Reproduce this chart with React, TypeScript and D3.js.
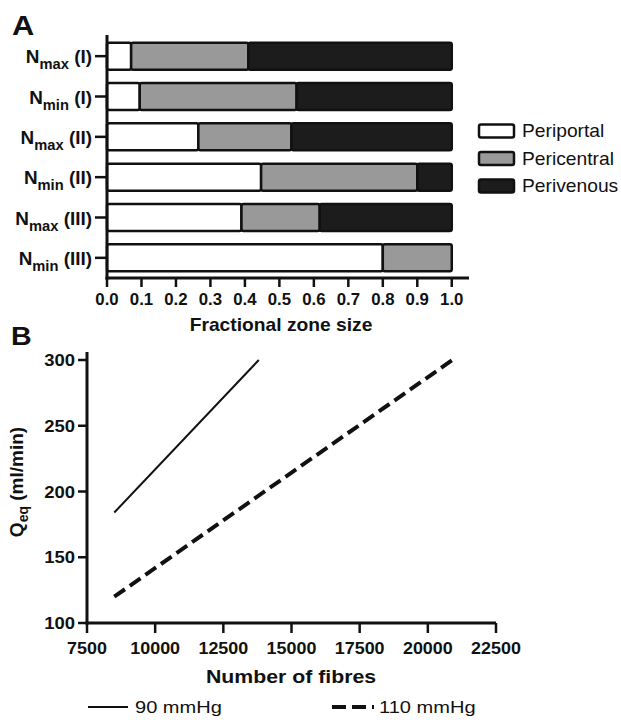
import React from "react";
import * as d3 from "d3";

// panel A
const subs = ["max", "min", "max", "min", "max", "min"];
const groups = ["I", "I", "II", "II", "III", "III"];
const zones = ["Periportal", "Pericentral", "Perivenous"];
const periportal = [0.07, 0.095, 0.265, 0.447, 0.39, 0.8];
const pericentral = [0.34, 0.455, 0.27, 0.453, 0.227, 0.2];
const perivenous = [0.59, 0.45, 0.465, 0.1, 0.383, 0];
const fracTicks = [0, 0.1, 0.2, 0.3, 0.4, 0.5, 0.6, 0.7, 0.8, 0.9, 1.0];

// panel B
const fibres90 = [8500, 13800];
const q90 = [184, 300];
const fibres110 = [8500, 20900];
const q110 = [120, 300];
const fibreTicks = [7500, 10000, 12500, 15000, 17500, 20000, 22500];
const qTicks = [100, 150, 200, 250, 300];

const FONT = "'Liberation Sans', Arial, Helvetica, sans-serif";
const zoneFill = ["#ffffff", "#999999", "#1c1c1c"];

function T({ x, y, size, bold = true, anchor = "start", sx = 1.1, children }: any) {
  return (
    <text
      transform={`translate(${x},${y}) scale(${sx},1)`}
      fontSize={size}
      fontWeight={bold ? "bold" : "normal"}
      textAnchor={anchor}
      fontFamily={FONT}
      fill="#111"
    >
      {children}
    </text>
  );
}

export default function App() {
  /* ===== Panel A ===== */
  const rows = subs.map((s, i) => ({
    key: `N${s} (${groups[i]})`,
    Periportal: periportal[i],
    Pericentral: pericentral[i],
    Perivenous: perivenous[i],
  }));
  const stacked = d3.stack<any>().keys(zones)(rows);

  const xA = d3.scaleLinear().domain([0, 1.05]).range([107, 469]);
  const yA = d3
    .scaleBand()
    .domain(rows.map((r) => r.key))
    .range([36, 278])
    .paddingInner(0.33)
    .paddingOuter(0.165);

  /* ===== Panel B ===== */
  const xB = d3.scaleLinear().domain([7500, 22500]).range([87, 496]);
  const yB = d3.scaleLinear().domain([100, 300]).range([623, 360]);
  const line = d3
    .line<[number, number]>()
    .x((d) => xB(d[0]))
    .y((d) => yB(d[1]));
  const pts90 = fibres90.map((f, i) => [f, q90[i]] as [number, number]);
  const pts110 = fibres110.map((f, i) => [f, q110[i]] as [number, number]);

  return (
    <svg
      width={621}
      height={724}
      style={{ position: "absolute", left: 0, top: 0, background: "#fff" }}
    >
      {/* Panel A */}
      <T x={12} y={35} size={28}>A</T>

      {stacked.map((layer, li) =>
        layer.map((d, i) => {
          const w = xA(d[1]) - xA(d[0]);
          if (w <= 0) return null;
          return (
            <rect
              key={`${li}-${i}`}
              x={xA(d[0])}
              y={yA(rows[i].key)}
              width={w}
              height={yA.bandwidth()}
              rx={2}
              fill={zoneFill[li]}
              stroke="#111"
              strokeWidth={2.5}
            />
          );
        })
      )}

      {/* A axes */}
      <line x1={107} x2={107} y1={35} y2={279.5} stroke="#111" strokeWidth={3} />
      <line x1={105.5} x2={xA(1.05)} y1={278} y2={278} stroke="#111" strokeWidth={3} />
      {rows.map((r, i) => {
        const cy = (yA(r.key) as number) + yA.bandwidth() / 2;
        return (
          <g key={r.key}>
            <line x1={95} x2={107} y1={cy} y2={cy} stroke="#111" strokeWidth={2.5} />
            <T x={92} y={cy + 7} size={18} anchor="end" sx={1.05}>
              N
              <tspan fontSize={14} dy={6}>{subs[i]}</tspan>
              <tspan dy={-6}>{` (${groups[i]})`}</tspan>
            </T>
          </g>
        );
      })}
      {fracTicks.map((t) => (
        <g key={t}>
          <line x1={xA(t)} x2={xA(t)} y1={278} y2={287} stroke="#111" strokeWidth={2.5} />
          <T x={xA(t)} y={305} size={16} anchor="middle" sx={1.05}>
            {t.toFixed(1)}
          </T>
        </g>
      ))}
      <T x={281} y={331} size={17.5} anchor="middle">Fractional zone size</T>

      {/* A legend */}
      {zones.map((z, i) => (
        <g key={z}>
          <rect
            x={479}
            y={124.5 + i * 27.5}
            width={35}
            height={13}
            rx={2}
            fill={zoneFill[i]}
            stroke="#111"
            strokeWidth={2.5}
          />
          <T x={522} y={137 + i * 27.5} size={17.5} bold={false} sx={1.1}>
            {z}
          </T>
        </g>
      ))}

      {/* Panel B */}
      <T x={11} y={345} size={26}>B</T>

      <path d={line(pts90) as string} fill="none" stroke="#111" strokeWidth={2} />
      <path
        d={line(pts110) as string}
        fill="none"
        stroke="#111"
        strokeWidth={4}
        strokeDasharray="13,6"
      />

      <line x1={87} x2={87} y1={352} y2={624.5} stroke="#111" strokeWidth={3} />
      <line x1={85.5} x2={496} y1={623} y2={623} stroke="#111" strokeWidth={3} />
      {qTicks.map((t) => (
        <g key={t}>
          <line x1={78} x2={87} y1={yB(t)} y2={yB(t)} stroke="#111" strokeWidth={2.5} />
          <T x={75} y={yB(t) + 6} size={16.5} anchor="end" sx={1.12}>
            {t}
          </T>
        </g>
      ))}
      {fibreTicks.map((t) => (
        <g key={t}>
          <line x1={xB(t)} x2={xB(t)} y1={623} y2={633} stroke="#111" strokeWidth={2.5} />
          <T x={xB(t)} y={654} size={16} anchor="middle" sx={1.12}>
            {t}
          </T>
        </g>
      ))}
      <T x={291} y={683} size={19} anchor="middle" sx={1.12}>Number of fibres</T>

      <text
        transform="translate(23,482) rotate(-90)"
        fontSize={19}
        fontWeight="bold"
        textAnchor="middle"
        fontFamily={FONT}
        fill="#111"
      >
        Q<tspan fontSize={14} dy={5}>eq</tspan>
        <tspan dy={-5}> (ml/min)</tspan>
      </text>

      {/* B legend */}
      <line x1={88} x2={128} y1={707} y2={707} stroke="#111" strokeWidth={2} />
      <T x={135} y={713} size={17} bold={false} sx={1.18}>90 mmHg</T>
      <line
        x1={332}
        x2={374}
        y1={707}
        y2={707}
        stroke="#111"
        strokeWidth={4}
        strokeDasharray="14,6"
      />
      <T x={379} y={713} size={17} bold={false} sx={1.18}>110 mmHg</T>
    </svg>
  );
}
